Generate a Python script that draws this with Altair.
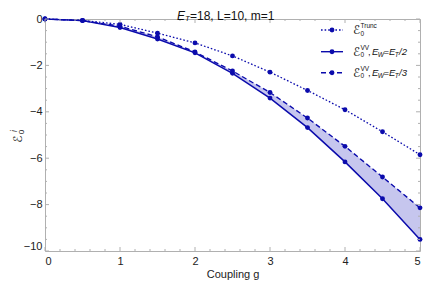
import altair as alt
import pandas as pd

# ---- data ----
g = [0, 0.5, 1, 1.5, 2, 2.5, 3, 3.5, 4, 4.5, 5]
e_trunc = [0, -0.06, -0.23, -0.61, -1.03, -1.59, -2.29, -3.08, -3.91, -4.86, -5.85]
e_vv_half = [0, -0.07, -0.37, -0.86, -1.46, -2.34, -3.41, -4.68, -6.16, -7.75, -9.5]
e_vv_third = [0, -0.07, -0.31, -0.77, -1.42, -2.24, -3.17, -4.27, -5.49, -6.81, -8.14]

x_major = [0, 1, 2, 3, 4, 5]
x_minor = [i / 5 for i in range(26) if i % 5 != 0]
y_major = [0, -2, -4, -6, -8, -10]
y_minor = [-i / 2 for i in range(21) if i % 4 != 0]

W, H = 375, 232
BLUE = "#0b0bac"
FILL = "#c6c6ee"
FRAME = "#b0b0b0"
FONT = "Liberation Sans"

df = pd.DataFrame({"g": g, "trunc": e_trunc, "half": e_vv_half, "third": e_vv_third})
xs = alt.Scale(domain=[0, 5], nice=False, zero=False)
ys = alt.Scale(domain=[-10, 0], nice=False, zero=False)

base = alt.Chart(df)

area = base.mark_area(color=FILL, opacity=1).encode(
    x=alt.X("g:Q", scale=xs,
            axis=alt.Axis(values=x_major, grid=False, ticks=False, domain=False,
                          labelFont=FONT, labelFontSize=11, labelColor="#222",
                          labelPadding=4, title="Coupling g", titleFont=FONT,
                          titleFontSize=11, titleFontWeight="normal", titleColor="#222",
                          titlePadding=2, format="d")),
    y=alt.Y("half:Q", scale=ys,
            axis=alt.Axis(values=y_major, grid=False, ticks=False, domain=False,
                          labelFont=FONT, labelFontSize=11, labelColor="#222",
                          labelPadding=3, title=None, format="d",
                          labelBaseline=alt.condition("datum.value == -10",
                                                      alt.value("bottom"),
                                                      alt.value("middle")))),
    y2="third:Q",
)


def series(col, dash, width):
    kw = dict(color=BLUE, strokeWidth=width)
    if dash:
        kw["strokeDash"] = dash
    line = base.mark_line(**kw).encode(x=alt.X("g:Q", scale=xs), y=alt.Y(f"{col}:Q", scale=ys))
    pts = base.mark_circle(color=BLUE, size=24, opacity=1).encode(
        x=alt.X("g:Q", scale=xs), y=alt.Y(f"{col}:Q", scale=ys))
    return line + pts


s_trunc = series("trunc", [1.6, 2], 1.3)
s_half = series("half", None, 1.5)
s_third = series("third", [5, 3], 1.4)


# ---- inward frame ticks ----
def ticks_x(vals, length):
    d = alt.Chart(pd.DataFrame({"t": vals}))
    b = d.mark_rule(color=FRAME, strokeWidth=1).encode(
        x=alt.X("t:Q", scale=xs), y=alt.value(H), y2=alt.value(H - length))
    t = d.mark_rule(color=FRAME, strokeWidth=1).encode(
        x=alt.X("t:Q", scale=xs), y=alt.value(0), y2=alt.value(length))
    return b + t


def ticks_y(vals, length):
    d = alt.Chart(pd.DataFrame({"t": vals}))
    l = d.mark_rule(color=FRAME, strokeWidth=1).encode(
        y=alt.Y("t:Q", scale=ys), x=alt.value(0), x2=alt.value(length))
    r = d.mark_rule(color=FRAME, strokeWidth=1).encode(
        y=alt.Y("t:Q", scale=ys), x=alt.value(W), x2=alt.value(W - length))
    return l + r


one = pd.DataFrame({"a": [0]})


def txt(s, x, y, size, italic=False, angle=0, font=FONT, align="left"):
    return alt.Chart(one).mark_text(
        text=s, align=align, baseline="middle", fontSize=size, font=font,
        fontStyle="italic" if italic else "normal", color="#111", angle=angle,
    ).encode(x=alt.value(x), y=alt.value(y))


# ---- manual legend ----
legend_layers = []
rows = [(11, [1.6, 2], "Trunc", None), (32.7, None, "VV", "2"), (53.7, [5, 3], "VV", "3")]
for ry, dash, sup, frac in rows:
    kw = dict(color=BLUE, strokeWidth=1.4)
    if dash:
        kw["strokeDash"] = dash
    legend_layers.append(alt.Chart(one).mark_rule(**kw).encode(
        x=alt.value(276), x2=alt.value(298), y=alt.value(ry)))
    legend_layers.append(alt.Chart(one).mark_circle(color=BLUE, size=24, opacity=1).encode(
        x=alt.value(287), y=alt.value(ry)))
    legend_layers.append(txt("ℰ", 308, ry, 12, font="DejaVu Sans"))
    legend_layers.append(txt("0", 315.5, ry + 3.5, 6.5))
    legend_layers.append(txt(sup, 315.5, ry - 4, 6.5))
    if frac:
        legend_layers.append(txt(",", 323, ry, 9.5))
        legend_layers.append(txt("E", 327, ry, 9.5, italic=True))
        legend_layers.append(txt("W", 332.8, ry + 3, 6.5, italic=True))
        legend_layers.append(txt("=", 338.5, ry, 9.5))
        legend_layers.append(txt("E", 344, ry, 9.5, italic=True))
        legend_layers.append(txt("T", 349.8, ry + 3, 6.5, italic=True))
        legend_layers.append(txt("/" + frac, 354, ry, 9.5, italic=True))

# ---- title ----
title_layers = [
    txt("E", 132, -3.5, 12, italic=True),
    txt("T", 140, -0.5, 8, italic=True),
    txt("=18, L=10, m=1", 145, -3.5, 12),
]

# ---- y-axis title (rotated) ----
ytitle_layers = [
    txt("ℰ", -27, 120, 12, angle=270, font="DejaVu Sans", align="center"),
    txt("0", -23.5, 113, 8, angle=270, align="center"),
    txt("i", -31.5, 112, 8.5, italic=True, angle=270, align="center"),
]

chart = alt.layer(
    area, s_half, s_third, s_trunc,
    ticks_x(x_major, 4), ticks_x(x_minor, 2),
    ticks_y(y_major, 4), ticks_y(y_minor, 2),
    *legend_layers, *title_layers, *ytitle_layers,
).properties(
    width=W, height=H,
    padding={"left": 37, "top": 11, "right": 12, "bottom": 29},
    autosize="none",
).configure_view(stroke=FRAME, strokeWidth=1)

chart.save("out.html", embed_options={"renderer": "svg", "actions": False})
